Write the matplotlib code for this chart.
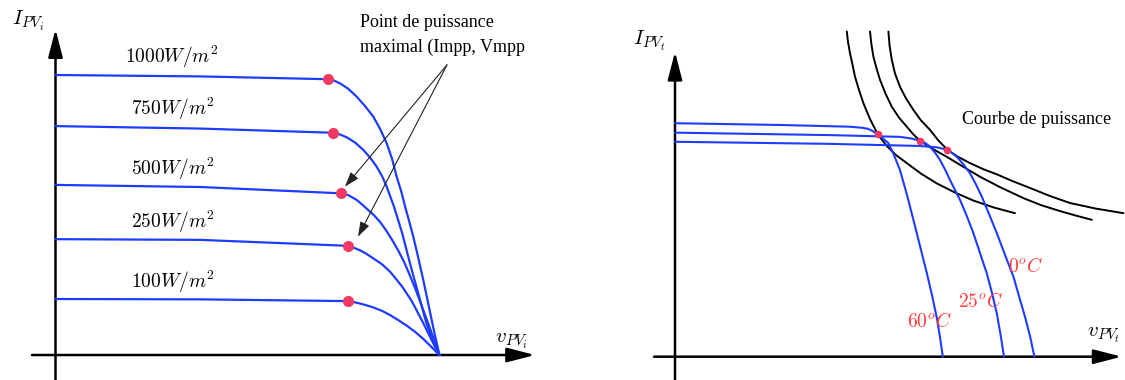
import matplotlib.pyplot as plt

plt.rcParams['mathtext.fontset'] = 'cm'
plt.rcParams['font.family'] = ['Liberation Serif', 'DejaVu Serif']

#######################
# left panel: I-V curves for several irradiance levels (V, A)
irradiance_labels = ['1000', '750', '500', '250', '100']
v_irr = [
    [0, 7.23, 13.61, 13.93, 14.23, 14.63, 15.06, 15.48, 15.89, 16.23, 16.56, 16.83, 17.06, 17.28,
     17.48, 17.68, 17.89, 18.13, 18.39, 18.6, 18.81, 19.0, 19.2],
    [0, 7.23, 13.89, 14.23, 14.56, 14.98, 15.39, 15.73, 16.06, 16.33, 16.56, 16.75, 16.93, 17.13,
     17.33, 17.6, 17.88, 18.2, 18.53, 18.85, 19.2],
    [0, 7.23, 14.26, 14.63, 15.06, 15.33, 15.64, 15.93, 16.23, 16.53, 16.83, 17.13, 17.43, 17.7,
     17.98, 18.23, 18.48, 18.68, 18.88, 19.03, 19.2],
    [0, 7.23, 14.61, 14.93, 15.23, 15.55, 15.89, 16.33, 16.73, 16.93, 17.13, 17.35, 17.56, 17.78,
     17.98, 18.18, 18.39, 18.58, 18.78, 18.98, 19.2],
    [0, 7.23, 14.61, 14.93, 15.23, 15.55, 15.89, 16.33, 16.73, 17.13, 17.56, 17.98, 18.39, 18.78, 19.2],
]
i_irr = [
    [8.0, 7.96, 7.88, 7.84, 7.76, 7.61, 7.38, 7.11, 6.81, 6.46, 6.05, 5.6, 5.09, 4.69,
     4.24, 3.83, 3.38, 2.8, 2.14, 1.57, 1.0, 0.49, 0],
    [6.54, 6.47, 6.35, 6.3, 6.22, 6.07, 5.86, 5.64, 5.38, 5.11, 4.81, 4.51, 4.23, 3.86,
     3.49, 2.89, 2.29, 1.63, 0.94, 0.43, 0],
    [4.86, 4.80, 4.62, 4.57, 4.43, 4.3, 4.14, 3.99, 3.80, 3.56, 3.29, 2.99, 2.66, 2.3,
     1.91, 1.53, 1.14, 0.83, 0.51, 0.26, 0],
    [3.31, 3.29, 3.12, 3.06, 2.99, 2.89, 2.76, 2.59, 2.38, 2.24, 2.10, 1.94, 1.76, 1.57,
     1.36, 1.14, 0.91, 0.69, 0.46, 0.23, 0],
    [1.60, 1.59, 1.54, 1.51, 1.47, 1.42, 1.36, 1.26, 1.14, 1.0, 0.84, 0.66, 0.46, 0.24, 0],
]
# maximum power points
vmpp_irr = [13.61, 13.89, 14.26, 14.61, 14.61]
impp_irr = [7.88, 6.35, 4.62, 3.12, 1.54]

# right panel: I-V curves for several temperatures
temperature_labels = ['60', '25', '0']
v_temp = [
    [0, 5.25, 8.75, 9.35, 9.65, 9.9, 10.14, 10.4, 10.67, 10.95, 11.25, 11.6, 11.92, 12.25,
     12.59, 12.85, 13.09, 13.25, 13.39],
    [0, 7.75, 11.25, 11.85, 12.25, 12.5, 12.75, 13.0, 13.25, 13.5, 13.75, 14.0, 14.25, 14.59,
     14.92, 15.25, 15.59, 15.85, 16.09, 16.28, 16.45],
    [0, 7.75, 12.25, 13.1, 13.62, 13.85, 14.09, 14.4, 14.75, 15.05, 15.35, 15.7, 16.09, 16.5,
     16.92, 17.2, 17.5, 17.75, 17.97],
]
i_temp = [
    [6.67, 6.62, 6.57, 6.54, 6.51, 6.44, 6.35, 6.23, 6.10, 5.76, 5.33, 4.62, 3.91, 3.16,
     2.39, 1.76, 1.11, 0.56, 0],
    [6.40, 6.33, 6.28, 6.23, 6.17, 6.11, 6.0, 5.83, 5.62, 5.35, 5.05, 4.76, 4.48, 4.02,
     3.53, 2.96, 2.38, 1.82, 1.24, 0.62, 0],
    [6.14, 6.08, 6.02, 5.98, 5.91, 5.82, 5.71, 5.51, 5.24, 4.92, 4.56, 4.08, 3.53, 2.91,
     2.29, 1.73, 1.14, 0.59, 0],
]
vmpp_temp = [10.14, 12.25, 13.62]
impp_temp = [6.35, 6.17, 5.91]

# constant power curves
v_power = [
    [8.59, 8.65, 8.75, 8.88, 9.0, 9.2, 9.42, 9.75, 10.14, 10.59, 11.05, 11.59, 12.3, 13.09,
     14.0, 14.92, 15.95, 17.0],
    [9.75, 9.82, 9.92, 10.08, 10.25, 10.53, 10.84, 11.2, 11.59, 11.9, 12.25, 12.9, 13.59, 14.4,
     15.25, 16.3, 17.42, 18.3, 19.25, 20.05, 20.84],
    [10.67, 10.73, 10.84, 11.0, 11.25, 11.55, 11.92, 12.3, 12.75, 13.15, 13.62, 14.15, 14.75, 15.4,
     16.09, 16.9, 17.75, 18.75, 19.75, 21.05, 22.42],
]
i_power = [
    [9.29, 8.99, 8.67, 8.33, 8.0, 7.62, 7.24, 6.79, 6.35, 6.02, 5.76, 5.53, 5.23, 4.95,
     4.69, 4.46, 4.26, 4.10],
    [9.29, 8.93, 8.57, 8.23, 7.91, 7.51, 7.14, 6.83, 6.57, 6.36, 6.17, 5.93, 5.71, 5.43,
     5.14, 4.83, 4.53, 4.33, 4.16, 4.03, 3.91],
    [9.29, 8.88, 8.48, 8.09, 7.71, 7.38, 7.05, 6.75, 6.48, 6.19, 5.91, 5.71, 5.53, 5.36,
     5.21, 5.01, 4.82, 4.59, 4.39, 4.23, 4.10],
]
#######################

blue = '#1e3cff'
dot_color = '#ef3b64'
label_red = '#ff3b3b'
line_kw = dict(solid_joinstyle='round', solid_capstyle='round')


def draw_axes(ax, x0, x1, y0, y1):
    # arrowed axes crossing at the origin
    props = dict(arrowstyle='-|>,head_length=0.85,head_width=0.22', mutation_scale=20,
                 lw=1.8, color='black', shrinkA=0, shrinkB=0)
    ax.annotate('', xy=(x1, 0), xytext=(x0, 0), arrowprops=props)
    ax.annotate('', xy=(0, y1), xytext=(0, y0), arrowprops=props)


fig = plt.figure(figsize=(11.25, 3.8), dpi=100)
ax1 = fig.add_axes([0, 0, 0.5, 1])
ax2 = fig.add_axes([0.5, 0, 0.5, 1])
for ax in (ax1, ax2):
    ax.axis('off')
ax1.set_xlim(-2.775, 25.35)
ax1.set_ylim(-0.714, 10.143)
ax2.set_xlim(-5.625, 22.5)
ax2.set_ylim(-0.666, 10.19)

# left panel
draw_axes(ax1, -1.175, 23.975, -0.714, 9.31)
label_pos = [(3.475, 8.34), (3.78, 6.86), (3.78, 5.14), (3.78, 3.63), (3.78, 1.91)]
for k in range(len(irradiance_labels)):
    ax1.plot(v_irr[k], i_irr[k], color=blue, lw=1.6, zorder=3, **line_kw)
    ax1.plot(vmpp_irr[k], impp_irr[k], 'o', color=dot_color, ms=7, zorder=4)
    ax1.text(label_pos[k][0], label_pos[k][1], '$' + irradiance_labels[k] + 'W/m^2$',
             fontsize=14, va='baseline', ha='left')

ax1.text(-2.175, 9.43, '$I_{PV_i}$', fontsize=15, va='baseline')
ax1.text(21.98, 0.34, '$v_{PV_i}$', fontsize=15, va='baseline')

ax1.text(15.225, 9.37, 'Point de puissance', fontsize=13, va='baseline')
ax1.text(15.225, 8.66, 'maximal (Impp, Vmpp', fontsize=13, va='baseline')
arrow_props = dict(arrowstyle='-|>,head_length=0.6,head_width=0.2', mutation_scale=15,
                   lw=0.8, color='#222222', shrinkA=0, shrinkB=0)
ax1.annotate('', xy=(14.475, 4.81), xytext=(19.575, 8.29), arrowprops=arrow_props)
ax1.annotate('', xy=(15.125, 3.38), xytext=(19.575, 8.29), arrowprops=arrow_props)

# right panel
draw_axes(ax2, -1.05, 22.33, -0.666, 8.71)
for k in range(len(v_power)):
    ax2.plot(v_power[k], i_power[k], color='black', lw=1.4, zorder=2, clip_on=False, **line_kw)
temp_pos = [(11.6, 0.85), (14.15, 1.42), (16.65, 2.42)]
for k in range(len(temperature_labels)):
    ax2.plot(v_temp[k], i_temp[k], color=blue, lw=1.5, zorder=3, **line_kw)
    ax2.plot(vmpp_temp[k], impp_temp[k], 'o', color=dot_color, ms=4.5, zorder=4)
    ax2.text(temp_pos[k][0], temp_pos[k][1], '$' + temperature_labels[k] + '^oC$',
             fontsize=14, color=label_red, va='baseline', zorder=5)

ax2.text(14.35, 6.65, 'Courbe de puissance', fontsize=13, va='baseline')
ax2.text(-2.1, 8.9, '$I_{PV_t}$', fontsize=15, va='baseline')
ax2.text(20.6, 0.56, '$v_{PV_t}$', fontsize=15, va='baseline')

fig.savefig('out.png', dpi=100)
